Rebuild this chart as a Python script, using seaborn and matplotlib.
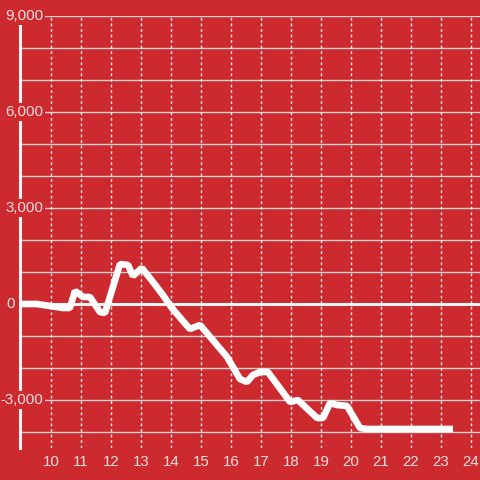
import matplotlib
matplotlib.use("Agg")
import matplotlib.pyplot as plt
import seaborn as sns
import pandas as pd

# hour of day vs running balance
hours = [8.87, 9.53, 10.40, 10.63, 10.80, 11.07, 11.30, 11.63, 11.80, 12.30,
         12.57, 12.73, 13.03, 13.40, 13.73, 14.03, 14.37, 14.63, 14.97, 15.87,
         16.30, 16.53, 16.73, 16.97, 17.23, 17.97, 18.23, 18.87, 19.07, 19.30,
         19.53, 19.87, 20.30, 20.53, 23.40]
balance = [0, 0, -125, -125, 406, 219, 219, -250, -281, 1250,
           1219, 875, 1125, 688, 281, -125, -500, -781, -656, -1656,
           -2344, -2438, -2219, -2125, -2125, -3063, -3000, -3563, -3563, -3094,
           -3156, -3188, -3875, -3906, -3906]

x_ticks = list(range(10, 25))
y_ticks = [-3000, 0, 3000, 6000, 9000]
y_tick_labels = ["-3,000", "0", "3,000", "6,000", "9,000"]
grid_rows = list(range(-4000, 9001, 1000))

RED = "#cc2a2f"
TEXT = "#f3dede"


def main():
    sns.set_style("white", {"axes.facecolor": RED, "figure.facecolor": RED})
    plt.rcParams["font.family"] = ["Liberation Sans", "DejaVu Sans"]
    fig = plt.figure(figsize=(4.8, 4.8), dpi=100)
    ax = fig.add_axes([20 / 480, 32 / 480, 460 / 480, 432 / 480])
    ax.set_xlim(8.967, 24.3)
    ax.set_ylim(-4500, 9000)

    for v in grid_rows:
        if v != 0:
            ax.axhline(v, color="#d2d2d2", lw=1, zorder=1)
    for t in x_ticks:
        ax.axvline(t, color="#ececec", lw=1, ls=(0, (2, 2)), zorder=1)
    ax.axhline(0, color="#f4f4f4", lw=2.2, zorder=2)

    df = pd.DataFrame({"hour": hours, "balance": balance})
    sns.lineplot(data=df, x="hour", y="balance", color="white", lw=4.8,
                 ax=ax, zorder=4, solid_joinstyle="bevel",
                 solid_capstyle="butt")

    for side in ["top", "right", "bottom"]:
        ax.spines[side].set_visible(False)
    ax.spines["left"].set_color("#f4f4f4")
    ax.spines["left"].set_linewidth(2.2)

    ax.set_xticks(x_ticks)
    ax.set_xticklabels([str(t) for t in x_ticks])
    ax.tick_params(axis="x", length=0, pad=5, labelsize=10.8, labelcolor=TEXT)
    ax.set_yticks([])
    ax.set_xlabel("")
    ax.set_ylabel("")

    trans = ax.get_yaxis_transform()
    for v, lab in zip(y_ticks, y_tick_labels):
        xpos = -0.011 if v == 0 else 0.05
        ax.text(xpos, v, lab, transform=trans, ha="right", va="center",
                fontsize=10.8, color=TEXT, zorder=5,
                bbox=dict(facecolor=RED, edgecolor="none", pad=1.2))

    fig.savefig("out.png", dpi=100, facecolor=RED)


if __name__ == "__main__":
    main()
